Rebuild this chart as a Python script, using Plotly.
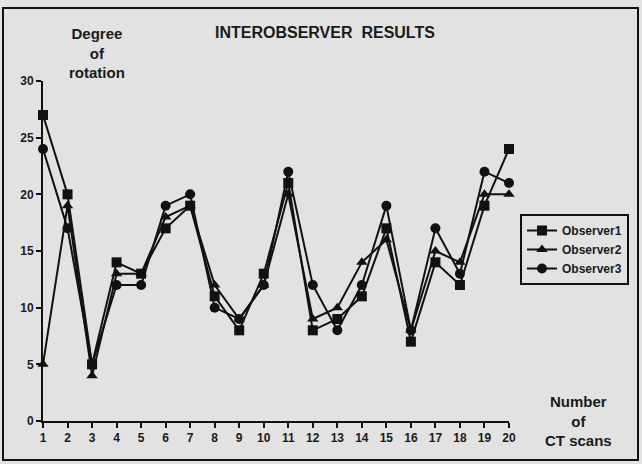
import plotly.graph_objects as go

scans = list(range(1, 21))
observer1 = [27, 20, 5, 14, 13, 17, 19, 11, 8, 13, 21, 8, 9, 11, 17, 7, 14, 12, 19, 24]
observer2 = [5, 19, 4, 13, 13, 18, 19, 12, 9, 12, 20, 9, 10, 14, 16, 8, 15, 14, 20, 20]
observer3 = [24, 17, 5, 12, 12, 19, 20, 10, 9, 12, 22, 12, 8, 12, 19, 8, 17, 13, 22, 21]
y_ticks = [0, 5, 10, 15, 20, 25, 30]

FONT = "Liberation Sans, Arial, sans-serif"
W, H = 642, 464
L, R, T, B = 43, 133, 81, 43
pw, ph = W - L - R, H - T - B

def px(x):
    return (x - L) / pw

def py(y):
    return (H - B - y) / ph

fig = go.Figure()
for name, vals, sym in [("Observer1", observer1, "square"),
                        ("Observer2", observer2, "triangle-up"),
                        ("Observer3", observer3, "circle")]:
    fig.add_trace(go.Scatter(
        x=scans, y=vals, name=name, mode="lines+markers",
        line=dict(color="#111111", width=2),
        marker=dict(symbol=sym, size=10, color="#111111"),
        cliponaxis=False,
    ))

fig.update_layout(
    width=W, height=H,
    margin=dict(l=L, r=R, t=T, b=B, autoexpand=False),
    paper_bgcolor="#e2e2e2", plot_bgcolor="#e2e2e2",
    font=dict(family=FONT, color="#1a1a1a", size=12, weight="bold"),
    showlegend=True,
    legend=dict(x=px(520), y=py(214), xanchor="left", yanchor="top",
                bordercolor="#111111", borderwidth=2, bgcolor="rgba(0,0,0,0)",
                font=dict(size=12, family=FONT, weight="bold"),
                tracegroupgap=0, itemwidth=30),
    xaxis=dict(range=[1, 20], tickvals=scans, showgrid=False, zeroline=False,
               showline=True, linecolor="#111111", linewidth=2,
               ticks="outside", ticklen=5, tickwidth=2, tickcolor="#111111",
               tickfont=dict(size=12, family=FONT, weight="bold")),
    yaxis=dict(range=[0, 30], tickvals=y_ticks, showgrid=False, zeroline=False,
               showline=True, linecolor="#111111", linewidth=2,
               ticks="outside", ticklen=5, tickwidth=2, tickcolor="#111111",
               tickfont=dict(size=12, family=FONT, weight="bold")),
    shapes=[dict(type="rect", xref="paper", yref="paper",
                 x0=px(3), x1=px(638), y0=py(460), y1=py(8),
                 line=dict(color="#111111", width=2), layer="below")],
    annotations=[
        dict(text="INTEROBSERVER  RESULTS", x=px(325), y=py(32), xref="paper", yref="paper",
             xanchor="center", yanchor="middle",
             showarrow=False, font=dict(size=16, family=FONT, weight="bold")),
        dict(text="Degree<br>of<br>rotation", x=px(97), y=py(53), xref="paper", yref="paper",
             xanchor="center", yanchor="middle",
             showarrow=False, font=dict(size=15, family=FONT, weight="bold")),
        dict(text="Number<br>of<br>CT scans", x=px(578), y=py(421), xref="paper", yref="paper",
             xanchor="center", yanchor="middle",
             showarrow=False, font=dict(size=15, family=FONT, weight="bold")),
    ],
)

fig.write_html("out.html", config={"displayModeBar": False},
               post_script="document.body.style.margin='0px';document.body.style.background='#e2e2e2';")
